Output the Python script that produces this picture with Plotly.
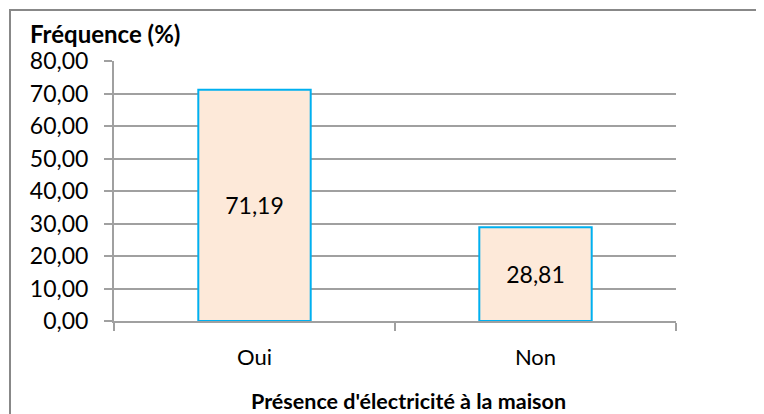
import plotly.graph_objects as go

# data
categories = ["Oui", "Non"]
frequences = [71.19, 28.81]
y_ticks = [0, 10, 20, 30, 40, 50, 60, 70, 80]

FONT = "Lato"
GRID = "#A0A0A0"
FILL = "#FDE9D9"
EDGE = "#00B0F0"

# the page body has an 8px margin, so the figure is made 8px smaller
fig = go.Figure(
    go.Bar(
        x=categories,
        y=frequences,
        marker=dict(color=FILL, line=dict(color=EDGE, width=2)),
        texttemplate="%{y:.2f}",
        textposition="inside",
        insidetextanchor="middle",
        textfont=dict(family=FONT, size=23, color="black"),
        hoverinfo="skip",
    )
)

fig.update_layout(
    width=756,
    height=406,
    separators=", ",
    paper_bgcolor="white",
    plot_bgcolor="white",
    margin=dict(l=106, r=88, t=53, b=93),
    bargap=0.6,
    showlegend=False,
    font=dict(family=FONT, color="black"),
)

fig.update_yaxes(
    range=[0, 80],
    tickvals=y_ticks,
    tickformat=".2f",
    tickfont=dict(size=23),
    showgrid=True,
    gridcolor=GRID,
    gridwidth=2,
    showline=True,
    linecolor=GRID,
    linewidth=2,
    ticks="outside",
    ticklen=8,
    tickwidth=2,
    tickcolor=GRID,
    ticklabelstandoff=11,
    zeroline=False,
    automargin=False,
)

fig.update_xaxes(
    tickfont=dict(size=22),
    showline=True,
    linecolor=GRID,
    linewidth=2,
    ticks="outside",
    tickson="boundaries",
    ticklen=8,
    tickwidth=2,
    tickcolor=GRID,
    ticklabelstandoff=16,
    automargin=False,
)

# x title sits a bit right of the plot centre in the original (centred on chart area)
fig.add_annotation(
    text="<b>Présence d'électricité à la maison</b>",
    xref="paper", yref="paper",
    x=(408.5 - 114) / 562, y=(321 - 401) / 260,
    xanchor="center", yanchor="middle",
    showarrow=False,
    font=dict(size=21.5),
)

# axis title placed horizontally above the y axis, like the Excel original
fig.add_annotation(
    text="<b>Fréquence (%)</b>",
    xref="paper", yref="paper",
    x=0, y=1,
    xanchor="left", yanchor="bottom",
    xshift=-86, yshift=11,
    showarrow=False,
    font=dict(size=24),
)

# outer chart frame (cut off at the right and bottom in the original)
fig.add_shape(
    type="rect",
    xref="paper", yref="paper",
    x0=(2 - 106) / 562, x1=(780 - 106) / 562,
    y0=(313 - 430) / 260, y1=(313 - 2) / 260,
    line=dict(color="#888888", width=2),
    fillcolor="rgba(0,0,0,0)",
    layer="below",
)

fig.write_html("out.html")
